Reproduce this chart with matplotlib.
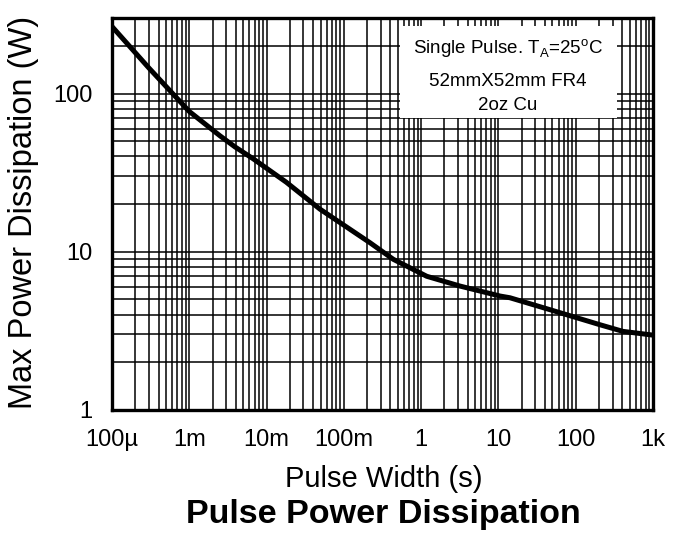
import matplotlib
matplotlib.use("Agg")
import matplotlib.pyplot as plt
from matplotlib.ticker import LogLocator, NullFormatter, FixedLocator, FixedFormatter
from matplotlib.patches import Rectangle

plt.rcParams['font.family'] = ['Liberation Sans', 'DejaVu Sans']
plt.rcParams['mathtext.fontset'] = 'custom'
plt.rcParams['mathtext.rm'] = 'Liberation Sans'

# Data
pulse_width = [1e-4, 3e-4, 1e-3, 0.0025, 0.0039, 0.0067, 0.018, 0.049, 0.218,
               0.436, 1.18, 3.18, 10.5, 14.1, 46, 205, 407, 912, 1000]
power = [265, 145, 77, 54, 46, 38.7, 27.5, 18.6, 11.4,
         8.96, 7.0, 6.07, 5.25, 5.12, 4.31, 3.46, 3.14, 2.99, 2.97]

x_ticks = [1e-4, 1e-3, 1e-2, 1e-1, 1, 10, 100, 1000]
x_labels = ["100\u00b5", "1m", "10m", "100m", "1", "10", "100", "1k"]
y_ticks = [1, 10, 100]
y_labels = ["1", "10", "100"]

W, H = 683, 534
fig = plt.figure(figsize=(W / 100, H / 100), dpi=100)
L, R, T, B = 112, 653, 18, 410
ax = fig.add_axes([L / W, 1 - B / H, (R - L) / W, (B - T) / H])

ax.set_xscale('log')
ax.set_yscale('log')
ax.set_xlim(1e-4, 1e3)
ax.set_ylim(1, 300)

ax.xaxis.set_major_locator(FixedLocator(x_ticks))
ax.xaxis.set_major_formatter(FixedFormatter(x_labels))
ax.yaxis.set_major_locator(FixedLocator(y_ticks))
ax.yaxis.set_major_formatter(FixedFormatter(y_labels))
ax.xaxis.set_minor_locator(LogLocator(base=10, subs=range(2, 10), numticks=20))
ax.yaxis.set_minor_locator(LogLocator(base=10, subs=range(2, 10), numticks=20))
ax.xaxis.set_minor_formatter(NullFormatter())
ax.yaxis.set_minor_formatter(NullFormatter())

ax.set_axisbelow(True)
ax.grid(True, which='both', color='black', linewidth=1.1)
ax.tick_params(which='both', length=0)
ax.tick_params(axis='x', labelsize=17, pad=14)
ax.tick_params(axis='y', labelsize=17, pad=14)
for s in ax.spines.values():
    s.set_linewidth(2.4)

ax.plot(pulse_width, power, color='black', linewidth=3.6, solid_capstyle='butt', zorder=3)

ax.add_patch(Rectangle((0.532, 0.745), 0.401, 0.235, transform=ax.transAxes,
                       facecolor='white', edgecolor='none', zorder=1.5))
ax.text(0.732, 0.922, r'Single Pulse. T$_\mathregular{A}$=25$^\mathregular{o}$C',
        transform=ax.transAxes, ha='center', va='center', fontsize=13.5, zorder=2)
ax.text(0.732, 0.837, '52mmX52mm FR4', transform=ax.transAxes,
        ha='center', va='center', fontsize=13.5, zorder=2)
ax.text(0.732, 0.778, '2oz Cu', transform=ax.transAxes,
        ha='center', va='center', fontsize=13.5, zorder=2)

fig.text(24 / W, 1 - 212 / H, 'Max Power Dissipation (W)', rotation=90,
         ha='center', va='center', fontsize=23.5)
fig.text(384 / W, 1 - 479 / H, 'Pulse Width (s)', ha='center', va='center', fontsize=21)
fig.text(383 / W, 1 - 514 / H, 'Pulse Power Dissipation', ha='center', va='center',
         fontsize=24.5, fontweight='bold')

fig.savefig('out.png', dpi=100)
